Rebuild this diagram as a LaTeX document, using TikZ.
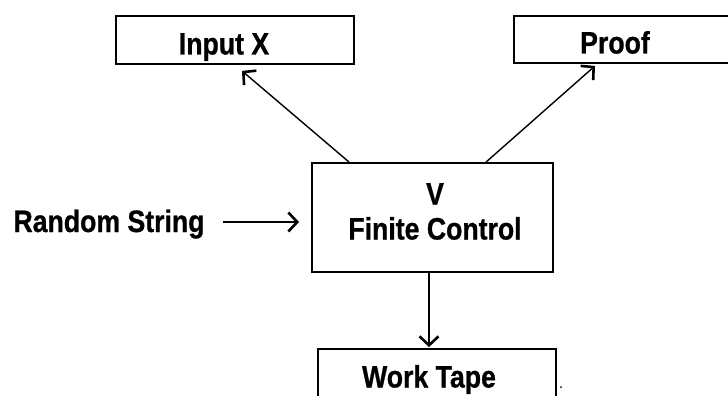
\documentclass[tikz,border=0pt]{standalone}
\usepackage{fontspec}
\setmainfont{Liberation Sans}[FakeStretch=0.86, BoldFeatures={FakeBold=0.8}]
\usetikzlibrary{arrows.meta, calc}
\newcommand{\feed}[2]{% plain feed arrow between two points
  \draw [-{Straight Barb[length=9pt,width=19pt,line width=2.6pt]}] #1 -- #2;
  }

\begin{document}
\begin{tikzpicture}[
  x=1pt, y=-1pt,
  unit/.style={
    % The shape:
    rectangle,
    % The border:
    draw=black,
    line width=1.8pt,
    % No padding, the size is set by hand
    inner sep=0pt
  },
  tag/.style={
    % Font
    font=\bfseries\fontsize{31}{35}\selectfont,
    align=center,
    inner sep=0pt
  },
  % lifts the caps a little below the middle of a box
  boxtext/.style={
    tag,
    text height=29pt,
    text depth=0pt
  },
  line width=1.4pt,
  ]

  \clip (0,0) rectangle (728,396);

  % The verifier and the tapes around it
  \node (vbox) [unit, minimum width=241pt, minimum height=109pt] at (432.5,217.5) {};
  \node (vname) [tag] at ($(vbox.center)+(2.5,-6)$) {V\\Finite Control};
  \node (inputx) [unit, minimum width=238pt, minimum height=48pt,
    label={[boxtext, xshift=-11pt]center:Input X}] at (235,40) {};
  \node (proof) [unit, minimum width=226pt, minimum height=47pt,
    label={[boxtext, xshift=-12pt, yshift=0.5pt]center:Proof}] at (627,39.5) {};
  \node (work) [unit, minimum width=238pt, minimum height=48pt,
    label={[boxtext, xshift=-8pt]center:Work Tape}] at (437,373) {};
  \node (coins) [tag, text height=22pt, text depth=0pt] at (109,221) {Random String};

  % reading heads
  \coordinate (coinsout) at ($(coins.east)+(18,1)$);
  \feed{($(vbox.north west)+(38,0)$)}{($(inputx.south)+(7,6)$)}
  \feed{($(vbox.north)+(53.5,0)$)}{($(proof.south)+(-32,2)$)}
  \feed{(coinsout)}{($(vbox.west |- coinsout)+(-12,0)$)}
  \feed{($(vbox.south)+(-3.5,0)$)}{($(work.north)+(-8,-1)$)}

  % stray mark next to the work tape
  \fill ($(work.north east)+(4,39)$) circle (1pt);

\end{tikzpicture}
\end{document}
